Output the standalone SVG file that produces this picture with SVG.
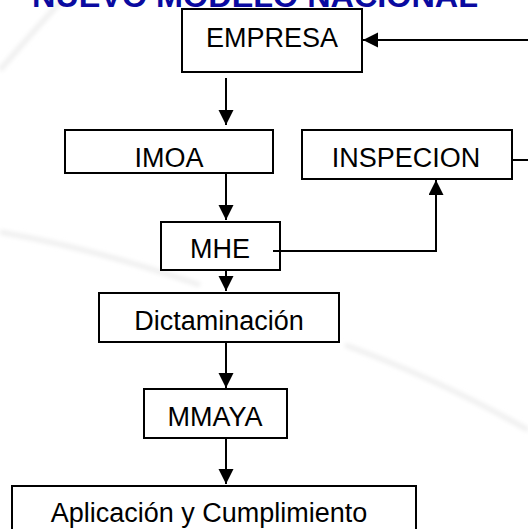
<svg xmlns="http://www.w3.org/2000/svg" width="528" height="529" viewBox="0 0 528 529">
  <defs>
    <marker id="ah" markerUnits="userSpaceOnUse" markerWidth="16" markerHeight="16" refX="15" refY="7.5" orient="auto">
      <polygon points="0,0 15,7.5 0,15" fill="#000"/>
    </marker>
    <filter id="blur" x="-10%" y="-10%" width="120%" height="120%">
      <feGaussianBlur stdDeviation="2"/>
    </filter>
  </defs>
  <style>
    .box { fill: #fff; stroke: #000; stroke-width: 2; }
    .lbl { font-family: "Liberation Sans", Arial, sans-serif; font-size: 27px; fill: #000; text-anchor: middle; }
    .title { font-family: "Liberation Sans", Arial, sans-serif; font-size: 31px; font-weight: bold; fill: #0A0AA0; }
    .conn { fill: none; stroke: #000; stroke-width: 2; }
    .wm { fill: none; stroke: #efefef; stroke-width: 5; filter: url(#blur); }
  </style>
  <rect width="528" height="529" fill="#fff"/>
  <g id="watermark">
    <path class="wm" d="M0,70 Q30,35 62,0"/>
    <path class="wm" d="M0,232 Q100,250 200,285"/>
    <path class="wm" d="M345,345 Q440,380 528,430"/>
  </g>
  <text class="title" x="32" y="7" textLength="446" lengthAdjust="spacingAndGlyphs">NUEVO MODELO NACIONAL</text>
  <g id="empresa">
    <rect class="box" x="182" y="9" width="180" height="63"/>
    <text class="lbl" x="272" y="47">EMPRESA</text>
  </g>
  <g id="imoa">
    <rect class="box" x="65" y="130" width="208" height="43"/>
    <text class="lbl" x="169" y="167">IMOA</text>
  </g>
  <g id="inspecion">
    <rect class="box" x="302" y="130" width="210" height="49"/>
    <text class="lbl" x="406" y="167">INSPECION</text>
  </g>
  <g id="mhe">
    <rect class="box" x="161" y="222" width="119" height="48"/>
    <text class="lbl" x="220" y="258">MHE</text>
  </g>
  <g id="dictaminacion">
    <rect class="box" x="99" y="293" width="240" height="49"/>
    <text class="lbl" x="219" y="330">Dictaminación</text>
  </g>
  <g id="mmaya">
    <rect class="box" x="144" y="389" width="143" height="49"/>
    <text class="lbl" x="215" y="426">MMAYA</text>
  </g>
  <g id="aplicacion">
    <rect class="box" x="12" y="486" width="404" height="60"/>
    <text class="lbl" x="209" y="522">Aplicación y Cumplimiento</text>
  </g>
  <g id="connectors">
    <line class="conn" x1="226" y1="78" x2="226" y2="125" marker-end="url(#ah)"/>
    <line class="conn" x1="226" y1="173" x2="226" y2="220" marker-end="url(#ah)"/>
    <line class="conn" x1="226" y1="270" x2="226" y2="291" marker-end="url(#ah)"/>
    <line class="conn" x1="226" y1="342" x2="226" y2="388" marker-end="url(#ah)"/>
    <line class="conn" x1="226" y1="438" x2="226" y2="484" marker-end="url(#ah)"/>
    <path class="conn" d="M273,251 H436 V180" marker-end="url(#ah)"/>
    <path class="conn" d="M512,160 H540 V40 H363" marker-end="url(#ah)"/>
  </g>
</svg>
